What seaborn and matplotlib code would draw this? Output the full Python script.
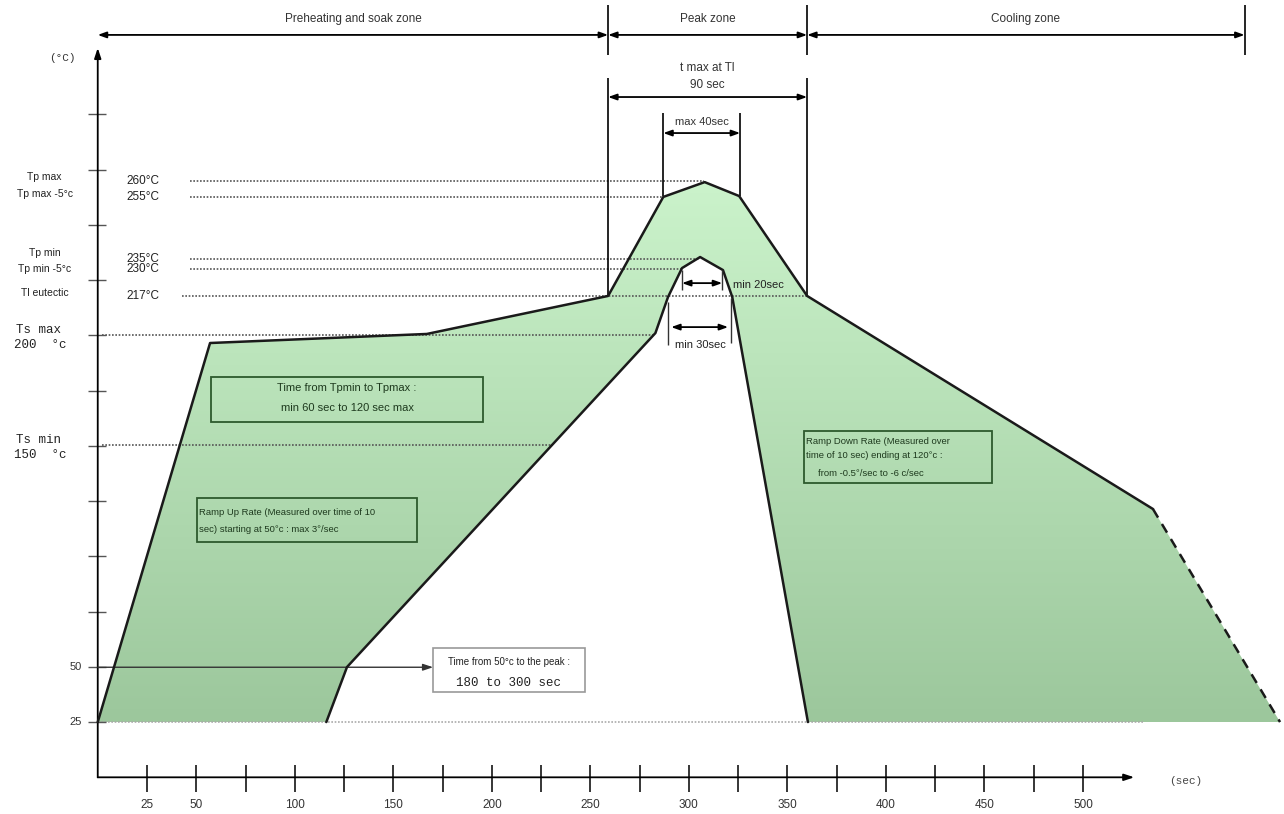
"""
Lead-free reflow soldering profile (schematic), redrawn with seaborn/matplotlib.
"""

import numpy as np
import pandas as pd
import matplotlib
matplotlib.use("Agg")
import matplotlib.pyplot as plt
from matplotlib.patches import Polygon, Rectangle
from matplotlib.colors import LinearSegmentedColormap
import seaborn as sns

# profile envelope (time in sec, temperature in deg C as placed on the drawing)
OUTER_T = [0, 57, 167, 259, 287, 308, 325.5, 360, 535.5]
OUTER_TEMP = [25, 196.5, 200.6, 217.8, 262.6, 269.3, 263, 217.8, 121.4]
TAIL_T = [535.5, 600]  # dashed end of the cooling ramp
TAIL_TEMP = [121.4, 25]
INNER_T = [116, 126.5, 283, 289.4, 296.5, 305.7, 317.3, 322, 360.4]
INNER_TEMP = [25, 49.9, 201, 217.3, 230.4, 235.4, 229.5, 217.3, 25]

# peak reference lines
PEAK_NAMES = ["Tp max", "Tp max -5°c", "Tp min", "Tp min -5°c", "Tl eutectic"]
PEAK_VALUES = ["260°C", "255°C", "235°C", "230°C", "217°C"]
PEAK_LEVELS = [269.8, 262.6, 234.5, 229.9, 217.8]
PEAK_NAME_LEVELS = [271.6, 263.9, 237.2, 230, 219.1]
PEAK_LINE_END = [307.7, 287, 305.7, 296.5, 360]

# soak reference lines
SOAK_NAMES = ["Ts max", "Ts min"]
SOAK_VALUES = ["200  °c", "150  °c"]
SOAK_LEVELS = [200, 150.3]
SOAK_LINE_END = [283, 231]

# zones
ZONE_EDGES = [0, 259, 360, 582]
ZONE_NAMES = ["Preheating and soak zone", "Peak zone", "Cooling zone"]

# axes
XTICKS = list(range(25, 501, 25))
XTICK_LABELS = [25, 50, 100, 150, 200, 250, 300, 350, 400, 450, 500]
YTICKS = list(range(25, 301, 25))
YTICK_LABELS = [25, 50]

sns.set_style("white")
plt.rcParams["font.family"] = ["Liberation Sans", "DejaVu Sans"]
MONO = ["Liberation Mono", "DejaVu Sans Mono"]

fig = plt.figure(figsize=(12.84, 8.14), dpi=100)
ax = fig.add_axes([0, 0, 1, 1])

# gradient fill between the two curves
poly_x = OUTER_T + TAIL_T[1:] + INNER_T[::-1]
poly_y = OUTER_TEMP + TAIL_TEMP[1:] + INNER_TEMP[::-1]
poly = Polygon(np.column_stack([poly_x, poly_y]), closed=True,
               facecolor="none", edgecolor="none")
ax.add_patch(poly)
cmap = LinearSegmentedColormap.from_list("grn", ["#9cc79c", "#cbf3cb"])
grad = np.linspace(0, 1, 256).reshape(-1, 1)
img = ax.imshow(grad, extent=[0, 601, 25, 270], origin="lower",
                aspect="auto", cmap=cmap, zorder=1)
img.set_clip_path(poly)

# reference lines
ax.hlines(25, 0, 531, colors="#aaaaaa", linestyles=(0, (1, 1)), lw=1.2, zorder=2)
for lvl, end in zip(PEAK_LEVELS, PEAK_LINE_END):
    start = 43 if lvl < 220 else 47
    ax.hlines(lvl, start, end, colors="#555555", linestyles=(0, (1, 1)), lw=1.2, zorder=2)
for lvl, end in zip(SOAK_LEVELS, SOAK_LINE_END):
    ax.hlines(lvl, 2, end, colors="#555555", linestyles=(0, (1, 1)), lw=1.2, zorder=2)

# curves
prof = pd.DataFrame({"t": OUTER_T, "temp": OUTER_TEMP})
sns.lineplot(data=prof, x="t", y="temp", sort=False, color="#1a1a1a", lw=1.8, ax=ax, zorder=4)
tail = pd.DataFrame({"t": TAIL_T, "temp": TAIL_TEMP})
sns.lineplot(data=tail, x="t", y="temp", sort=False, color="#1a1a1a", lw=1.8,
             linestyle=(0, (4, 3)), ax=ax, zorder=4)
inner = pd.DataFrame({"t": INNER_T, "temp": INNER_TEMP})
sns.lineplot(data=inner, x="t", y="temp", sort=False, color="#1a1a1a", lw=1.8, ax=ax, zorder=4)

arrow = dict(arrowstyle="<|-|>,head_length=0.5,head_width=0.18", color="black",
             lw=1.3, shrinkA=0, shrinkB=0)
one_arrow = dict(arrowstyle="-|>,head_length=0.6,head_width=0.2", color="#333333",
                 lw=1.0, shrinkA=0, shrinkB=0)

# axes lines with arrows
ax.annotate("", xy=(526, 0), xytext=(0, 0), arrowprops=dict(one_arrow, color="black", lw=1.3))
ax.annotate("", xy=(0, 330), xytext=(0, 0), arrowprops=dict(one_arrow, color="black", lw=1.3))
ax.vlines(XTICKS, -6.5, 5.5, colors="black", lw=1.1)
for v in XTICK_LABELS:
    ax.text(v, -12.6, str(v), ha="center", va="center", fontsize=8.5, color="#333333")
ax.text(552, -1.7, "(sec)", ha="center", va="center", fontsize=8, color="#444444", family=MONO)
ax.hlines(YTICKS, -5, 4, colors="#555555", lw=1.0)
for v in YTICK_LABELS:
    ax.text(-8, v, str(v), ha="right", va="center", fontsize=8, color="#333333")
ax.text(-18, 325.4, "(°C)", ha="center", va="center", fontsize=8, color="#333333", family=MONO)

# left labels
for name, val, lvl, nlvl in zip(PEAK_NAMES, PEAK_VALUES, PEAK_LEVELS, PEAK_NAME_LEVELS):
    ax.text(-27, nlvl, name, ha="center", va="center", fontsize=7.5, color="#222222")
    ax.text(23, lvl, val, ha="center", va="center", fontsize=8.5, color="#222222")
for name, val, lvl in zip(SOAK_NAMES, SOAK_VALUES, SOAK_LEVELS):
    ax.text(-30, lvl + 2.5, name, ha="center", va="center", fontsize=9, color="#222222", family=MONO)
    ax.text(-29, lvl - 4.5, val, ha="center", va="center", fontsize=9, color="#222222", family=MONO)

# zones
for x in ZONE_EDGES[1:]:
    ax.vlines(x, 326.8, 349.4, colors="black", lw=1.2)
for a, b, name in zip(ZONE_EDGES[:-1], ZONE_EDGES[1:], ZONE_NAMES):
    ax.annotate("", xy=(b, 335.9), xytext=(a, 335.9), arrowprops=arrow)
    ax.text((a + b) / 2, 343, name, ha="center", va="center", fontsize=8.5, color="#333333")

# t max at Tl
ax.vlines([259, 360], 217.8, 316.4, colors="black", lw=1.2, zorder=3)
ax.annotate("", xy=(360, 307.8), xytext=(259, 307.8), arrowprops=arrow)
ax.text(309.5, 321, "t max at Tl", ha="center", va="center", fontsize=8.5, color="#333333")
ax.text(309.5, 313.2, "90 sec", ha="center", va="center", fontsize=8.5, color="#333333")

# max 40 sec
ax.vlines([287, 326], 263, 300.6, colors="black", lw=1.2, zorder=3)
ax.annotate("", xy=(326, 291.5), xytext=(287, 291.5), arrowprops=arrow)
ax.text(306.5, 296.5, "max 40sec", ha="center", va="center", fontsize=8, color="#333333")

# min 20 sec
ax.vlines([296.5, 316.9], 220.5, 229.5, colors="#333333", lw=1.0, zorder=5)
ax.annotate("", xy=(316.9, 223.6), xytext=(296.5, 223.6), arrowprops=arrow, zorder=5)
ax.text(322.5, 222.8, "min 20sec", ha="left", va="center", fontsize=8, color="#222222", zorder=5)

# min 30 sec
ax.vlines(289.4, 195.6, 215, colors="#333333", lw=1.0, zorder=5)
ax.vlines(321.4, 196.5, 217, colors="#333333", lw=1.0, zorder=5)
ax.annotate("", xy=(319.9, 203.7), xytext=(291, 203.7), arrowprops=arrow, zorder=5)
ax.text(306, 195.4, "min 30sec", ha="center", va="center", fontsize=8, color="#222222", zorder=5)

# text boxes
box_kw = dict(facecolor="none", lw=1.3, zorder=5)
ax.add_patch(Rectangle((57.6, 160.7), 137.9, 20.3, edgecolor="#2d5a2d", **box_kw))
ax.text(126.5, 176.1, "Time from Tpmin to Tpmax :", ha="center", va="center",
        fontsize=8, color="#1e3a1e", zorder=6)
ax.text(126.5, 167, "min 60 sec to 120 sec max", ha="center", va="center",
        fontsize=8, color="#1e3a1e", zorder=6)

ax.add_patch(Rectangle((50.4, 106.4), 111.6, 20, edgecolor="#2d5a2d", **box_kw))
ax.text(51.3, 120, "Ramp Up Rate (Measured over time of 10", ha="left", va="center",
        fontsize=6.8, color="#1e3a1e", zorder=6)
ax.text(51.3, 111.9, "sec) starting at 50°c : max 3°/sec", ha="left", va="center",
        fontsize=6.8, color="#1e3a1e", zorder=6)

ax.add_patch(Rectangle((358.5, 133.1), 95.4, 23.6, edgecolor="#2d5a2d", **box_kw))
ax.text(359.3, 152.1, "Ramp Down Rate (Measured over", ha="left", va="center",
        fontsize=6.8, color="#1e3a1e", zorder=6)
ax.text(359.3, 145.4, "time of 10 sec) ending at 120°c :", ha="left", va="center",
        fontsize=6.8, color="#1e3a1e", zorder=6)
ax.text(365.5, 137.6, "from -0.5°/sec to -6 c/sec", ha="left", va="center",
        fontsize=6.8, color="#1e3a1e", zorder=6)

# time from 50 to peak
ax.annotate("", xy=(170.2, 49.8), xytext=(0, 49.8), arrowprops=one_arrow)
ax.add_patch(Rectangle((170.2, 38.6), 77.1, 19.9, edgecolor="#999999", facecolor="white",
                       lw=1.2, zorder=5))
ax.text(208.7, 52, "Time from 50°c to the peak :", ha="center", va="center",
        fontsize=7, color="#222222", zorder=6)
ax.text(208.7, 42.8, "180 to 300 sec", ha="center", va="center",
        fontsize=9, color="#222222", family=MONO, zorder=6)

ax.set_xlim(-49.6, 602)
ax.set_ylim(-16.6, 351.7)
ax.axis("off")
if ax.get_legend():
    ax.get_legend().remove()

fig.savefig("out.png", dpi=100, facecolor="white")
